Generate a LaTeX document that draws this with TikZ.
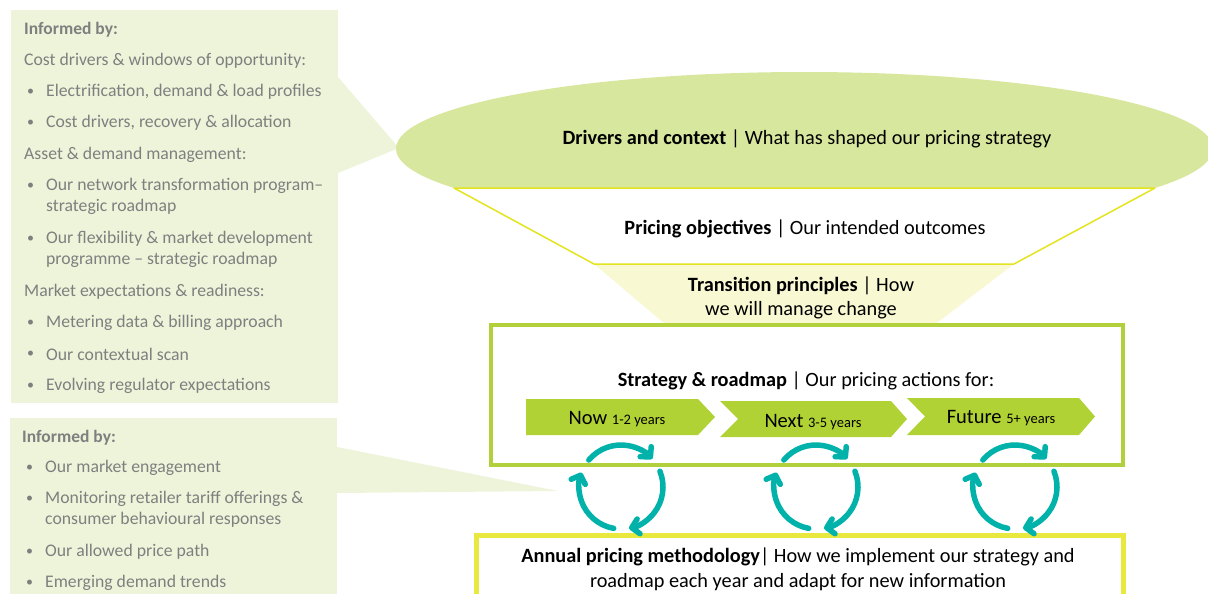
\documentclass[tikz,border=0pt]{standalone}
\usepackage{fontspec}
\setmainfont{Carlito}
\usetikzlibrary{arrows.meta,calc}
\definecolor{panelgreen}{HTML}{EEF4DA}
\definecolor{ovalgreen}{HTML}{D7E79D}
\definecolor{funnelline}{HTML}{E3E31F}
\definecolor{paleyellow}{HTML}{F8F8D2}
\definecolor{framegreen}{HTML}{B2D03B}
\definecolor{chevgreen}{HTML}{B1D235}
\definecolor{frameyellow}{HTML}{E8E83E}
\definecolor{cycleteal}{HTML}{00B2A9}
\definecolor{notegray}{HTML}{7F7F7F}
\begin{document}
\begin{tikzpicture}[x=1pt,y=-1pt,
  note/.style={anchor=west, text=notegray, inner sep=0pt,
    font=\fontsize{17.7}{21}\selectfont, align=left},
  notehead/.style={note, font=\fontsize{17.5}{21}\selectfont\bfseries},
  dot/.style={note, font=\fontsize{14}{17}\selectfont},
  caption/.style={inner sep=0pt, align=center,
    font=\fontsize{20.3}{24.5}\selectfont},
  chevron/.style={fill=chevgreen, draw=none},
  cyc/.style={draw=cycleteal, line width=5.5pt, line cap=round,
    -{Straight Barb[length=7pt,width=15pt,round]}},
]
\useasboundingbox (0,0) rectangle (1208,594);

% ---- side panels with their callout pointers ----
\fill[panelgreen] (11,10) rectangle (338,403);
\fill[panelgreen] (338,77) -- (399,148) -- (338,173) -- cycle;
\fill[panelgreen] (10,418) rectangle (337,600);
\fill[panelgreen] (337,447) -- (558,491) -- (337,493) -- cycle;

% ---- funnel ----
\fill[ovalgreen] (804.5,148.6) ellipse[x radius=408.5, y radius=76.6];
\fill[paleyellow] (594,264) -- (1014,264) -- (908,345) -- (690,345) -- cycle;
\draw[funnelline, line width=1.5pt, fill=white, line join=round]
  (454,188) -- (1155,188) -- (1014,264) -- (594,264) -- cycle;

% ---- strategy frame and horizon chevrons ----
\draw[framegreen, line width=4.5pt, fill=white] (491,325) rectangle (1123,465);
\fill[chevron] (526,399) -- (698,399) -- (715,417) -- (698,435) -- (526,435) -- cycle;
\fill[chevron] (720,401) -- (891,401) -- (907,419) -- (891,437) -- (720,437) -- (738,419) -- cycle;
\fill[chevron] (907,398) -- (1079,398) -- (1095,416.5) -- (1079,435) -- (907,435) -- (925,416.5) -- cycle;

% ---- annual methodology frame ----
\draw[frameyellow, line width=5pt] (476,610) -- (476,535.5) -- (1123,535.5) -- (1123,610);

% ---- texts on the funnel ----
\node[caption] (drivers) at (807,139) {\textbf{Drivers and context} | What has shaped our pricing strategy};
\node[caption] (objectives) at (805,229) {\textbf{Pricing objectives} | Our intended outcomes};
\node[caption] (transition) at (801,298) {\textbf{Transition principles} | How\\we will manage change};
\node[caption] (strategy) at (806,381) {\textbf{Strategy \& roadmap} | Our pricing actions for:};
\node[caption] (annual) at (798,569.5) {\textbf{Annual pricing methodology}| How we implement our strategy and\\roadmap each year and adapt for new information};

\node[inner sep=0pt, anchor=base] (now) at (617,424)
  {\fontsize{20.5}{24}\selectfont Now {\fontsize{14.5}{17}\selectfont 1-2 years}};
\node[inner sep=0pt, anchor=base] (next) at (813,427)
  {\fontsize{20.5}{24}\selectfont Next {\fontsize{14.5}{17}\selectfont 3-5 years}};
\node[inner sep=0pt, anchor=base] (future) at (1001,423)
  {\fontsize{20.5}{24}\selectfont Future {\fontsize{14.5}{17}\selectfont 5+ years}};

% ---- feedback cycles between strategy and annual methodology ----
\foreach \cx [count=\i] in {621,816,1015} {
  \coordinate (cyc\i) at (\cx,487);
  \draw[cyc] ($(cyc\i)+(220:42)$) arc[start angle=220, end angle=318, radius=42];
  \draw[cyc] ($(cyc\i)+(338:42)$) arc[start angle=338, end angle=439, radius=42];
  \draw[cyc] ($(cyc\i)+(100:42)$) arc[start angle=100, end angle=200, radius=42];
}

% ---- upper panel notes ----
\node[notehead] (headA) at (24,30) {Informed by:};
\node[note] (costA) at (24,61) {Cost drivers \& windows of opportunity:};
\node[dot] at (27,92) {•}; \node[note] (itemA1) at (46,92) {Electrification, demand \& load profiles};
\node[dot] at (27,123) {•}; \node[note] (itemA2) at (46,123) {Cost drivers, recovery \& allocation};
\node[note] (assetA) at (24,155) {Asset \& demand management:};
\node[dot] at (27,186) {•}; \node[note, anchor=north west] (itemA3) at (46,178) {Our network transformation program–\\strategic roadmap};
\node[dot] at (27,239) {•}; \node[note, anchor=north west] (itemA4) at (46,231) {Our flexibility \& market development\\programme – strategic roadmap};
\node[note] (marketA) at (24,292) {Market expectations \& readiness:};
\node[dot] at (27,323) {•}; \node[note] (itemA5) at (46,323) {Metering data \& billing approach};
\node[dot] at (27,354) {•}; \node[note] (itemA6) at (46,354) {Our contextual scan};
\node[dot] at (27,386) {•}; \node[note] (itemA7) at (46,386) {Evolving regulator expectations};

% ---- lower panel notes ----
\node[notehead] (headB) at (22,438) {Informed by:};
\node[dot] at (26,468) {•}; \node[note] (itemB1) at (45,468) {Our market engagement};
\node[dot] at (26,499) {•}; \node[note, anchor=north west] (itemB2) at (45,491) {Monitoring retailer tariff offerings \&\\consumer behavioural responses};
\node[dot] at (26,552) {•}; \node[note] (itemB3) at (45,552) {Our allowed price path};
\node[dot] at (26,583) {•}; \node[note] (itemB4) at (45,583) {Emerging demand trends};
\end{tikzpicture}
\end{document}
